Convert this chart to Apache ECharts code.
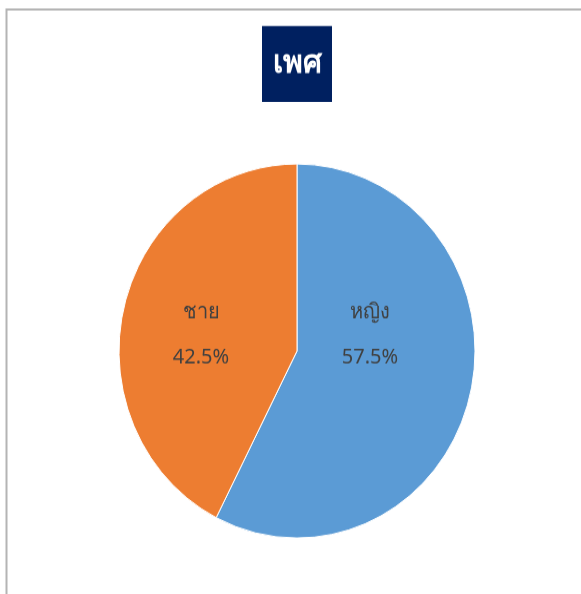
<!DOCTYPE html>
<html><head><meta charset="utf-8">
<script src="https://cdn.jsdelivr.net/npm/echarts@6/dist/echarts.min.js"></script>
<style>html,body{margin:0;padding:0;background:#fff;width:581px;height:594px}
#wrap{width:581px;height:594px;overflow:hidden;position:relative}
#c{width:581px;height:566px;transform-origin:0 0;position:absolute;left:0;top:0}</style>
</head><body><div id="wrap"><div id="c"></div></div>
<script>
const titleText = 'เพศ';
const categories = ['หญิง', 'ชาย'];
const values = [57.5, 42.5];
const colors = ['#5b9bd5', '#ed7d31'];

// the reference pie is slightly taller than wide: stretch vertically
const S = 187 / 178;
document.getElementById('c').style.transform = 'scaleY(' + S + ')';
const Y = v => v / S;
const labelPos = [[370, Y(335)], [201, Y(335)]];

const chart = echarts.init(document.getElementById('c'));
const FONT = '"Noto Sans", "DejaVu Sans", sans-serif';
chart.setOption({
  animation: false,
  graphic: [
    {type: 'rect', shape: {x: 6.5, y: Y(9.5), width: 600, height: 600}, style: {fill: 'none', stroke: '#b4b4b4', lineWidth: 2}, z: 0},
    {type: 'rect', shape: {x: 262, y: Y(26), width: 70, height: Y(76)}, style: {fill: '#002060'}, z: 1},
    {type: 'text', x: 297, y: Y(64), style: {text: titleText, fill: '#ffffff', font: 'bold 30px ' + FONT, textAlign: 'center', textVerticalAlign: 'middle'}, z: 2}
  ],
  series: [{
    type: 'pie',
    center: [297, Y(351)],
    radius: 178,
    startAngle: 90,
    clockwise: true,
    data: categories.map((n, i) => ({name: n, value: values[i], itemStyle: {color: colors[i]}})),
    itemStyle: {borderColor: '#ffffff', borderWidth: 1},
    label: {
      position: 'inside',
      formatter: p => p.name + '\n' + p.value.toFixed(1) + '%',
      color: '#404040',
      fontSize: 20,
      fontFamily: FONT,
      lineHeight: Y(45),
      align: 'center'
    },
    labelLine: {show: false},
    labelLayout: p => ({x: labelPos[p.dataIndex][0], y: labelPos[p.dataIndex][1], align: 'center', verticalAlign: 'middle'}),
    emphasis: {disabled: true}
  }]
});
</script></body></html>
